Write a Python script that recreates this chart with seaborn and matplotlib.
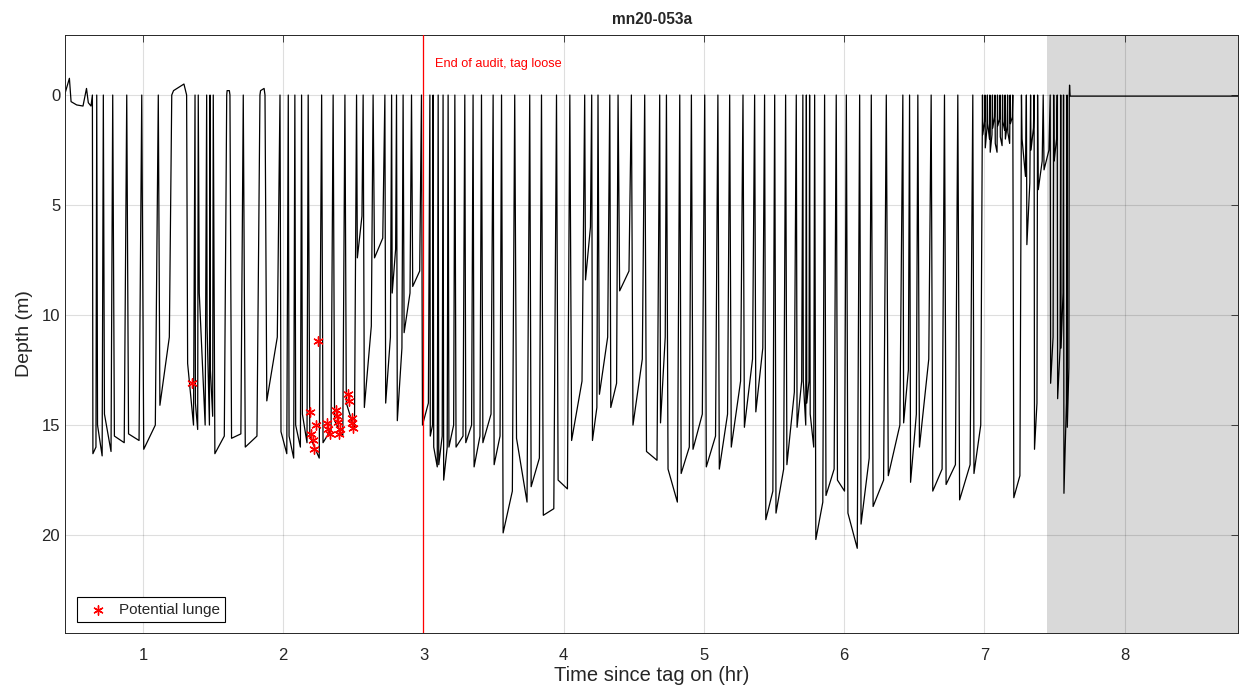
import numpy as np
import pandas as pd
import matplotlib
matplotlib.use('Agg')
import matplotlib.pyplot as plt
import seaborn as sns

# ---- data ----
# trace before the first dive (tag settling at the surface)
pre_t = [0.430, 0.475, 0.487, 0.527, 0.572, 0.597, 0.610, 0.629]
pre_d = [0.23, -0.76, 0.30, 0.45, 0.50, -0.30, 0.35, 0.50]

# surface contacts; dive i runs from surface_t[i] to surface_t[i+1]
surface_t = [0.639, 0.670, 0.717, 0.784, 0.884, 0.991, 1.109, 1.205, 1.311, 1.371,
             1.394, 1.454, 1.478, 1.501, 1.597, 1.620, 1.715, 1.834, 1.870, 1.977,
             2.036, 2.083, 2.131, 2.178, 2.274, 2.356, 2.440, 2.523, 2.570, 2.641,
             2.725, 2.773, 2.808, 2.855, 2.915, 2.986, 3.046, 3.069, 3.105, 3.140,
             3.176, 3.224, 3.295, 3.354, 3.414, 3.497, 3.557, 3.651, 3.758, 3.842,
             3.949, 4.044, 4.150, 4.200, 4.245, 4.329, 4.388, 4.483, 4.578, 4.685,
             4.733, 4.828, 4.911, 5.006, 5.100, 5.184, 5.279, 5.362, 5.433, 5.505,
             5.583, 5.659, 5.706, 5.731, 5.754, 5.790, 5.861, 5.944, 6.016, 6.111,
             6.194, 6.301, 6.419, 6.467, 6.526, 6.621, 6.716, 6.811, 6.918, 6.987,
             7.005, 7.022, 7.040, 7.058, 7.076, 7.094, 7.112, 7.130, 7.148, 7.166,
             7.184, 7.203, 7.265, 7.300, 7.330, 7.355, 7.380, 7.420, 7.470, 7.495,
             7.520, 7.545, 7.565, 7.590, 7.606]

# depth at start and end of each dive's bottom phase (m)
bottom_start = [16.3, 15.0, 14.5, 15.5, 15.4, 16.1, 14.1, -0.2, 12.2, 14.0,
                9.0, 10.5, 12.5, 16.3, -0.2, 15.6, 16.0, -0.2, 13.9, 15.3,
                15.5, 15.0, 14.5, 15.5, 15.8, 14.8, 14.0, 7.4, 14.2, 7.4,
                14.0, 9.0, 14.8, 10.8, 8.7, 15.0, 15.5, 16.0, 16.8, 17.5,
                16.0, 16.0, 15.8, 16.9, 15.8, 16.8, 19.9, 15.6, 17.8, 19.1,
                17.5, 15.7, 8.4, 15.7, 13.6, 14.2, 8.9, 15.0, 16.2, 14.9,
                17.0, 17.2, 16.1, 16.9, 17.0, 16.0, 15.1, 14.4, 19.3, 19.0,
                16.8, 15.1, 13.0, 14.0, 14.5, 20.2, 18.2, 17.5, 19.0, 19.5,
                18.7, 17.3, 14.9, 17.6, 16.0, 18.0, 17.7, 18.4, 17.2, 1.8,
                2.4, 1.3, 2.6, 1.5, 2.2, 1.4, 1.9, 1.2, 2.0, 1.7,
                1.3, 18.3, 2.0, 6.8, 2.5, 16.1, 4.3, 3.4, 13.1, 3.0,
                13.8, 11.5, 18.1, 15.1]
bottom_end = [16.0, 16.4, 16.2, 15.8, 15.7, 15.0, 11.0, -0.5, 15.0, 15.2,
              15.0, 15.0, 14.6, 15.5, -0.2, 15.4, 15.5, -0.3, 11.0, 16.3,
              16.5, 16.0, 15.8, 16.5, 15.2, 15.5, 15.2, 5.5, 10.5, 6.5,
              11.0, 7.0, 11.5, 9.0, 8.0, 14.0, 15.0, 16.9, 15.5, 16.0,
              15.0, 15.5, 15.0, 15.5, 14.5, 15.5, 18.0, 18.5, 16.5, 18.8,
              17.9, 13.0, 6.0, 14.2, 11.0, 13.1, 8.0, 12.0, 16.6, 11.0,
              18.5, 16.0, 14.5, 15.5, 14.5, 13.0, 12.0, 11.5, 18.0, 17.0,
              13.5, 13.0, 15.0, 13.0, 16.0, 18.5, 17.0, 18.0, 20.6, 16.5,
              17.5, 15.0, 12.5, 14.5, 12.0, 17.0, 16.8, 16.8, 15.0, 1.2,
              1.5, 2.0, 1.8, 1.0, 2.6, 1.1, 2.3, 1.6, 1.4, 2.2,
              1.0, 17.3, 3.7, 4.0, 1.5, 14.0, 3.0, 2.5, 11.0, 2.0,
              11.5, 9.0, 14.0, 12.4]

# tag floating at the surface after release
post_t = [7.608, 7.612, 8.812]
post_d = [-0.45, 0.05, 0.05]

lunge_t = [1.347, 2.190, 2.200, 2.214, 2.219, 2.233, 2.245, 2.309, 2.321, 2.333,
           2.376, 2.385, 2.392, 2.404, 2.400, 2.463, 2.470, 2.487, 2.494, 2.499]
lunge_d = [13.1, 14.4, 15.4, 15.7, 16.1, 15.0, 11.2, 14.9, 15.2, 15.4,
           14.3, 14.6, 14.85, 15.2, 15.4, 13.6, 13.9, 14.7, 14.9, 15.15]

audit_end = 3.0
tag_off = 7.45

# ---- build the dive trace from the dive table ----
t_all, d_all = list(pre_t), list(pre_d)
for i in range(len(surface_t) - 1):
    t0, t1 = surface_t[i], surface_t[i + 1]
    dur = t1 - t0
    t_all += [t0, t0 + 0.12 * dur, t1 - 0.18 * dur]
    d_all += [0.0, bottom_start[i], bottom_end[i]]
t_all += [surface_t[-1]] + post_t
d_all += [0.0] + post_d
trace = pd.DataFrame({'t': t_all, 'depth': d_all})
lunges = pd.DataFrame({'t': lunge_t, 'depth': lunge_d})

# ---- plot ----
sns.set_style('white')
plt.rcParams['font.family'] = ['Liberation Sans', 'DejaVu Sans']

fig, ax = plt.subplots(figsize=(12.39, 6.98), dpi=100)
fig.subplots_adjust(left=0.0525, right=0.9995, top=0.9499, bottom=0.0931)

ax.axvspan(tag_off, 9, color='#d9d9d9', lw=0, zorder=0.3)
sns.lineplot(data=trace, x='t', y='depth', sort=False, estimator=None,
             color='black', lw=0.9, ax=ax, zorder=2)
ax.axvline(audit_end, color='red', lw=0.9, zorder=3)
ax.text(audit_end + 0.085, -1.4, 'End of audit, tag loose', color='red',
        fontsize=9.2, va='center', ha='left')
sns.scatterplot(data=lunges, x='t', y='depth', marker=(6, 2, 0), s=45,
                color='red', edgecolor='red', linewidth=1.0, ax=ax, zorder=4,
                label='Potential lunge')

ax.set_xlim(0.444, 8.812)
ax.set_ylim(24.45, -2.73)
ax.set_xticks(range(1, 9))
ax.set_yticks([0, 5, 10, 15, 20])
ax.set_axisbelow(True)
ax.grid(True, color='black', alpha=0.13, lw=0.8)
ax.tick_params(direction='in', length=5, width=0.6, top=True, right=True,
               labelsize=12, colors='#262626')
ax.tick_params(axis='x', pad=11)
for sp in ax.spines.values():
    sp.set_color('#262626')
    sp.set_linewidth(0.7)

ax.set_title('mn20-053a', fontsize=11.2, fontweight='bold', pad=8)
ax.set_xlabel('Time since tag on (hr)', fontsize=14.5, color='#262626', labelpad=2)
ax.set_ylabel('Depth (m)', fontsize=14, color='#262626', labelpad=6)

leg = ax.legend(loc='lower left', bbox_to_anchor=(0.0102, 0.0184),
                borderaxespad=0, fontsize=11, fancybox=False, framealpha=1,
                handletextpad=0.4, borderpad=0.35)
leg.get_frame().set_edgecolor('black')
leg.get_frame().set_linewidth(0.8)

plt.savefig('out.png', dpi=100)
